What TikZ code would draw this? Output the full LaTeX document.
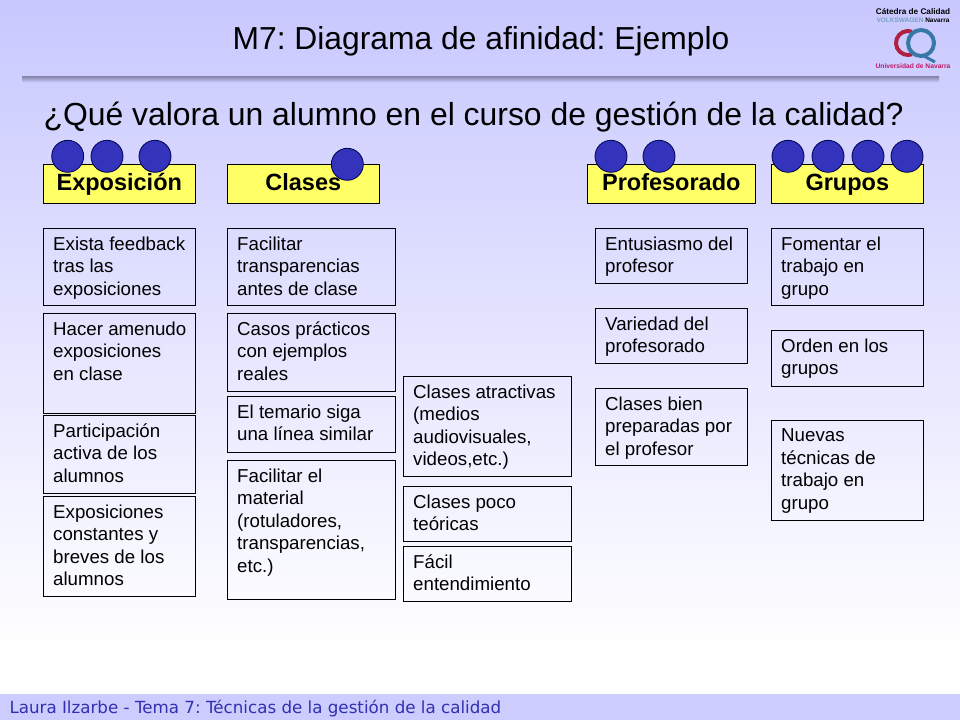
\documentclass[tikz,border=0pt]{standalone}
\usepackage{fontspec}
\setmainfont{Liberation Sans}
\newfontfamily\footfont{DejaVu Sans}
\frenchspacing
\definecolor{slidetop}{HTML}{C8C8FF}
\definecolor{footband}{HTML}{CCCCFF}
\definecolor{footink}{HTML}{3030B0}
\definecolor{dotblue}{HTML}{3333BB}
\definecolor{headyellow}{HTML}{FFFF66}
\definecolor{logored}{HTML}{B02040}
\definecolor{logoblue}{HTML}{3878A8}
\tikzset{x=1pt,y=-1pt,
    headbox/.style={draw=black,line width=1pt,fill=headyellow,minimum height=39pt,inner sep=0pt,outer sep=0pt,
        text height=19pt,text depth=5pt,font=\fontsize{23.5}{26}\selectfont\bfseries},
    cardbox/.style={draw=black,line width=1pt,anchor=north west,inner sep=0pt,outer sep=0pt},
    cardtext/.style={anchor=north west,inner sep=0pt,align=left,font=\fontsize{18.7}{22.5}\selectfont},
    vote/.style={circle,draw=black!70!blue,line width=.8pt,fill=dotblue,minimum size=32pt,inner sep=0pt},
    }
\begin{document}
\begin{tikzpicture}
	\useasboundingbox (0,0) rectangle (960,720);
	% background
	\shade[top color=slidetop,bottom color=white] (0,0) rectangle (960,650);
	\fill[white] (0,650) rectangle (960,694);
	\fill[footband] (0,694) rectangle (960,720);
	\shade[top color=black!35!slidetop,bottom color=slidetop] (22,76) rectangle (939,82);
	% titles
	\node[font=\fontsize{31.8}{36}\selectfont] (title) at (481,41.5) {M7: Diagrama de afinidad: Ejemplo};
	\node[anchor=west,font=\fontsize{31.9}{36}\selectfont] (question) at (40,117) {¿Qué valora un alumno en el curso de gestión de la calidad?};
	\node[anchor=west,text=footink,font=\footfont\fontsize{16.7}{20}\selectfont] (foot) at (6,709) {Laura Ilzarbe - Tema 7: Técnicas de la gestión de la calidad};
	% logo
	\node[font=\fontsize{8.2}{9}\selectfont\bfseries] (logoA) at (913,12) {Cátedra de Calidad};
	\node[font=\fontsize{6.5}{7}\selectfont\bfseries,text=logoblue!70!white] (logoB) at (913,20) {VOLKSWAGEN \textcolor{black}{Navarra}};
	\node[font=\fontsize{6.7}{7}\selectfont\bfseries,text=logored!80!magenta] (logoC) at (913,66) {Universidad de Navarra};
	\draw[logored,line width=4pt] (912.1,31.7) arc[start angle=-70,end angle=-290,radius=12];
	\draw[logoblue,line width=4pt] (921,43) circle[radius=13];
	\draw[logoblue,line width=3pt] (922,55) -- (935,62);
	% headers
	\node[headbox,minimum width=152pt] (exposicion) at (119.3,183.8) {Exposición};
	\node[headbox,minimum width=152pt] (clases) at (303.3,183.8) {Clases};
	\node[headbox,minimum width=168pt] (profesorado) at (671.3,183.8) {Profesorado};
	\node[headbox,minimum width=152pt] (grupos) at (847.3,183.8) {Grupos};
	% votes
	\foreach \name/\x/\y in {a/67.7/156.3,b/107/156.3,c/155/156.3,d/347.3/164.3,e/611/156.3,f/659/156.3,g/788/156.3,h/828/156.3,i/868/156.3,j/907/156.3}
		\node[vote] (vote\name) at (\x,\y) {};
	% cards
	\foreach \name/\x/\y/\w/\h/\txt in {
		expoA/43/228/152/77/{Exista feedback\\tras las\\exposiciones},
		expoB/43/313/152/100/{Hacer amenudo\\exposiciones\\en clase},
		expoC/43/415/152/78/{Participación\\activa de los\\alumnos},
		expoD/43/496/152/100/{Exposiciones\\constantes y\\breves de los\\alumnos},
		claseA/227/228/168/77/{Facilitar\\transparencias\\antes de clase},
		claseB/227/313/168/78/{Casos prácticos\\con ejemplos\\reales},
		claseC/227/396/168/56/{El temario siga\\una línea similar},
		claseD/227/460/168/139/{Facilitar el\\material\\(rotuladores,\\transparencias,\\etc.)},
		midA/403/376/168/100/{Clases atractivas\\(medios\\audiovisuales,\\videos,etc.)},
		midB/403/486/168/55/{Clases poco\\teóricas},
		midC/403/546/168/55/{Fácil\\entendimiento},
		profA/595/228/152/55/{Entusiasmo del\\profesor},
		profB/595/308/152/55/{Variedad del\\profesorado},
		profC/595/388/152/77/{Clases bien\\preparadas por\\el profesor},
		grupoA/771/228/152/77/{Fomentar el\\trabajo en\\grupo},
		grupoB/771/330/152/56/{Orden en los\\grupos},
		grupoC/771/420/152/100/{Nuevas\\técnicas de\\trabajo en\\grupo}}
	{
		\node[cardbox,minimum width=\w pt,minimum height=\h pt] (\name) at (\x+.3,\y+.3) {};
		\node[cardtext] (\name-text) at (\x+10,\y+8.5) {\txt};
	}
\end{tikzpicture}
\end{document}
